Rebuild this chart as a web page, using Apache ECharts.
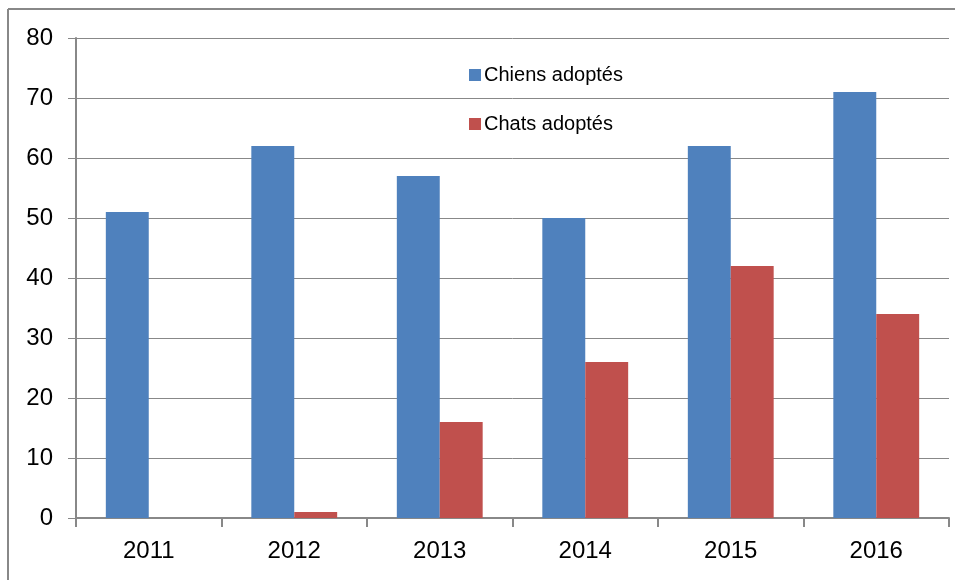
<!DOCTYPE html>
<html><head><meta charset="utf-8">
<script src="https://cdn.jsdelivr.net/npm/echarts@6/dist/echarts.min.js"></script>
<style>html,body{margin:0;padding:0;background:#fff}#c{width:955px;height:580px}</style>
</head><body><div id="c"></div>
<script>
const categories = ['2011','2012','2013','2014','2015','2016'];
const chiens = [51, 62, 57, 50, 62, 71];
const chats = [0, 1, 16, 26, 42, 34];
const yTicks = [0, 10, 20, 30, 40, 50, 60, 70, 80];

const chart = echarts.init(document.getElementById('c'), null, {renderer: 'canvas'});
const font = 'Liberation Sans, Arial, sans-serif';
chart.setOption({
  animation: false,
  backgroundColor: '#fff',
  grid: {left: 76, right: 6, top: 38, bottom: 62, containLabel: false},
  legend: {
    orient: 'vertical', left: 464, top: 60, itemGap: 29,
    itemWidth: 12, itemHeight: 12, icon: 'rect',
    textStyle: {fontFamily: font, fontSize: 20, color: '#000', padding: [0,0,0,-2]},
    data: ['Chiens adoptés', 'Chats adoptés']
  },
  xAxis: {
    type: 'category', data: categories, boundaryGap: true,
    axisLine: {lineStyle: {color: '#888', width: 2}},
    axisTick: {show: true, length: 9, lineStyle: {color: '#888', width: 2}},
    axisLabel: {fontFamily: font, fontSize: 24, color: '#000', margin: 21}
  },
  yAxis: {
    type: 'value', min: yTicks[0], max: yTicks[yTicks.length-1], interval: 10,
    axisLine: {show: true, lineStyle: {color: '#888', width: 2}},
    axisTick: {show: true, length: 8, lineStyle: {color: '#888', width: 1}},
    splitLine: {lineStyle: {color: '#888', width: 1}},
    axisLabel: {fontFamily: font, fontSize: 24, color: '#000', margin: 23}
  },
  series: [
    {name: 'Chiens adoptés', type: 'bar', data: chiens, barGap: '0%', barCategoryGap: '41%', itemStyle: {color: '#4F81BD'}},
    {name: 'Chats adoptés', type: 'bar', data: chats, barGap: '0%', barCategoryGap: '41%', itemStyle: {color: '#C0504D'}}
  ],
  graphic: [
    {type: 'line', shape: {x1: 8, y1: 9, x2: 955, y2: 9}, style: {stroke: '#888', lineWidth: 2}, silent: true},
    {type: 'line', shape: {x1: 8, y1: 9, x2: 8, y2: 580}, style: {stroke: '#888', lineWidth: 2}, silent: true}
  ]
});
</script></body></html>
